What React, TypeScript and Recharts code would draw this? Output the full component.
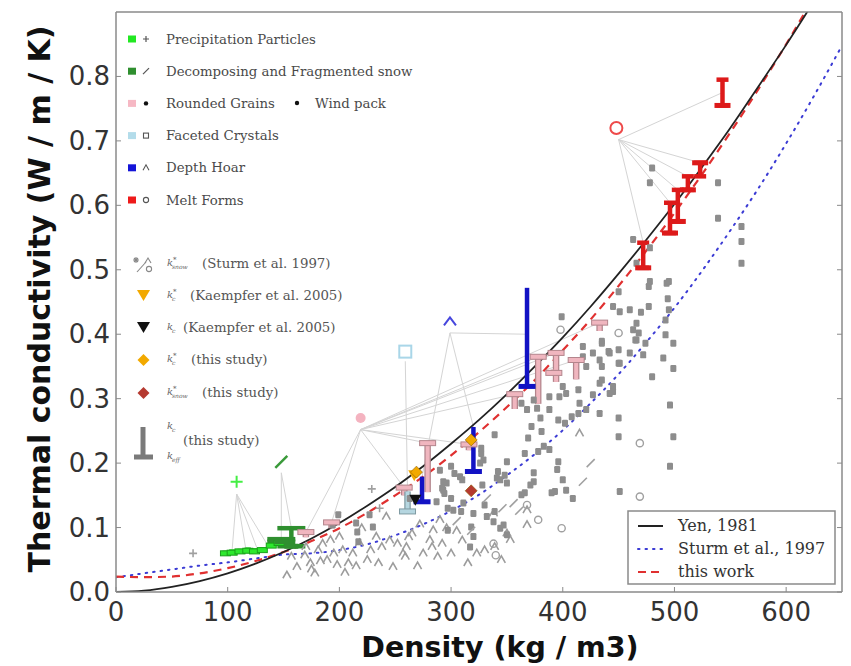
import { ComposedChart, ErrorBar, Line, ReferenceLine, Scatter, XAxis, YAxis } from "recharts";

// model curves, sampled every 25 kg/m3
const curveDensity = [
  0, 25, 50, 75, 100, 125, 150, 175, 200, 225, 250, 275, 300, 325, 350, 375, 400, 425, 450, 475, 500,
  525, 550, 575, 600, 625, 650,
];
const yenK = [
  0, 0.002, 0.008, 0.017, 0.029, 0.044, 0.062, 0.083, 0.107, 0.134, 0.163, 0.195, 0.23, 0.267, 0.307,
  0.35, 0.395, 0.443, 0.494, 0.547, 0.602, 0.66, 0.72, 0.784, 0.849, 0.917, 0.987,
];
const sturmK = [
  0.023, 0.029, 0.035, 0.041, 0.046, 0.052, 0.058, 0.06, 0.065, 0.074, 0.088, 0.105, 0.126, 0.151,
  0.181, 0.214, 0.251, 0.293, 0.338, 0.388, 0.441, 0.499, 0.561, 0.626, 0.696, 0.77, 0.848,
];
const thisWorkK = [
  0.024, 0.023, 0.024, 0.029, 0.037, 0.048, 0.062, 0.079, 0.099, 0.123, 0.15, 0.179, 0.212, 0.248,
  0.287, 0.329, 0.375, 0.423, 0.475, 0.53, 0.588, 0.649, 0.713, 0.78, 0.85, 0.924, 1.0,
];

const xTicks = [0, 100, 200, 300, 400, 500, 600];
const yTicks = [0, 0.1, 0.2, 0.3, 0.4, 0.5, 0.6, 0.7, 0.8];

// Sturm et al. 1997 samples [density, k]
const sturmSquares = [
  [199, 0.12], [194, 0.104], [215, 0.107], [216, 0.093], [217, 0.078], [227, 0.12], [230, 0.101],
  [263, 0.145], [290, 0.189], [293, 0.171], [293, 0.158], [300, 0.195], [300, 0.145], [297, 0.13],
  [296, 0.169], [294, 0.153], [302, 0.127], [297, 0.096], [308, 0.179], [309, 0.125], [311, 0.138],
  [320, 0.122], [320, 0.086], [317, 0.07], [318, 0.101], [327, 0.215], [329, 0.205], [330, 0.135],
  [332, 0.117], [338, 0.109], [339, 0.125], [342, 0.187], [344, 0.174], [348, 0.181], [350, 0.169],
  [347, 0.104], [344, 0.099], [350, 0.089], [363, 0.151], [366, 0.215], [371, 0.166], [374, 0.171],
  [378, 0.218], [388, 0.221], [396, 0.202], [393, 0.156], [403, 0.158], [400, 0.174], [409, 0.145],
  [451, 0.156], [303, 0.184], [310, 0.174], [292, 0.161], [326, 0.2], [339, 0.244], [350, 0.202],
  [341, 0.177], [328, 0.166], [366, 0.154], [374, 0.185], [390, 0.154], [395, 0.19], [287, 0.14],
  [399, 0.427], [418, 0.381], [435, 0.386], [445, 0.443], [451, 0.435], [463, 0.407], [460, 0.438],
  [466, 0.391], [418, 0.365], [427, 0.371], [433, 0.36], [442, 0.371], [451, 0.355], [421, 0.35],
  [433, 0.324], [445, 0.319], [442, 0.308], [400, 0.319], [403, 0.308], [397, 0.303], [388, 0.303],
  [414, 0.314], [415, 0.293], [414, 0.277], [433, 0.277], [421, 0.283], [408, 0.272], [402, 0.262],
  [396, 0.267], [388, 0.283], [377, 0.285], [380, 0.27], [381, 0.249], [372, 0.257], [369, 0.239],
  [368, 0.283], [374, 0.298], [363, 0.293], [327, 0.223], [383, 0.226], [450, 0.27], [450, 0.241],
  [427, 0.306], [470, 0.434], [477, 0.443], [466, 0.417], [468, 0.402], [465, 0.391], [435, 0.389],
  [441, 0.373], [450, 0.376], [460, 0.371], [450, 0.355], [435, 0.35], [474, 0.386], [472, 0.368],
  [492, 0.399], [499, 0.386], [490, 0.363], [499, 0.347], [480, 0.334], [495, 0.438], [492, 0.422],
  [435, 0.329], [445, 0.311], [496, 0.29], [499, 0.241], [496, 0.195], [477, 0.474], [493, 0.479],
  [494, 0.455], [480, 0.658], [478, 0.635], [539, 0.635], [539, 0.58], [560, 0.567], [560, 0.544],
  [560, 0.51], [463, 0.547], [478, 0.534], [466, 0.51], [478, 0.482], [495, 0.482], [450, 0.466],
];
const sturmCarets = [
  [153, 0.026], [157, 0.055], [162, 0.039], [169, 0.057], [174, 0.045], [178, 0.029], [181, 0.065],
  [189, 0.05], [192, 0.081], [198, 0.042], [200, 0.086], [203, 0.065], [208, 0.045], [218, 0.076],
  [220, 0.099], [233, 0.086], [242, 0.117], [248, 0.039], [257, 0.06], [260, 0.07], [265, 0.091],
  [281, 0.081], [284, 0.096], [288, 0.055], [290, 0.112], [296, 0.099], [259, 0.055], [283, 0.07],
  [338, 0.122], [350, 0.091], [368, 0.127], [368, 0.104], [353, 0.081], [339, 0.07], [415, 0.246],
  [170, 0.07], [185, 0.075], [212, 0.06], [225, 0.05], [238, 0.07], [272, 0.105], [300, 0.06],
  [310, 0.08], [323, 0.06], [270, 0.04], [245, 0.08], [175, 0.035], [183, 0.048], [195, 0.06],
  [205, 0.03], [215, 0.04], [228, 0.065], [235, 0.045], [252, 0.075], [262, 0.085], [275, 0.06],
  [292, 0.075], [305, 0.095], [315, 0.045], [330, 0.065], [345, 0.05],
];
const sturmRings = [
  [398, 0.407], [450, 0.402], [469, 0.231], [469, 0.148], [340, 0.057], [378, 0.112], [399, 0.099],
  [338, 0.075], [368, 0.135],
];
const sturmSlashes = [
  [418, 0.171], [332, 0.145], [346, 0.13], [356, 0.138], [361, 0.126], [305, 0.11], [318, 0.095],
  [425, 0.2],
];
const sturmPlus = [[69, 0.06], [229, 0.16], [236, 0.13]];

// this study: [density, k_eff, k_c]
const precipBars = [
  [98, 0.06, 0.064], [104, 0.061, 0.066], [111, 0.063, 0.067], [118, 0.064, 0.069],
  [124, 0.063, 0.068], [131, 0.065, 0.069], [139, 0.072, 0.076], [146, 0.076, 0.08],
];
const decompBars = [[148, 0.078, 0.082], [157, 0.071, 0.099]];
const roundedBars = [
  [170, 0.093, 0.085], [193, 0.108, 0.099], [258, 0.162, 0.15], [279, 0.231, 0.155],
  [316, 0.229, 0.22], [357, 0.307, 0.284], [378, 0.365, 0.292], [394, 0.371, 0.326],
  [392, 0.34, 0.345], [412, 0.36, 0.33], [433, 0.418, 0.405],
];
const facetedBars = [[261, 0.125, 0.156]];
const hoarBars = [[274, 0.14, 0.179], [320, 0.187, 0.256], [368, 0.319, 0.472]];
const meltBars = [
  [472, 0.503, 0.542], [496, 0.557, 0.604], [503, 0.575, 0.624], [512, 0.624, 0.645],
  [523, 0.666, 0.645], [543, 0.755, 0.795],
];
const kcStarStudy = [[269, 0.186], [318, 0.236]];
const kcStarKaempfer = [[267, 0.181]];
const kcKaempfer = [[268, 0.143]];
const kSnowStudy = [[318, 0.157]];

// class pictograms and the samples they point to
const precipIcon = [108, 0.171];
const precipHub = [108, 0.152];
const precipTargets = [[104, 0.066], [116, 0.069], [126, 0.069], [136, 0.072]];
const decompIcon = [148, 0.202];
const decompHub = [148, 0.185];
const decompTargets = [[148, 0.082], [157, 0.099]];
const roundedIcon = [219, 0.27];
const roundedHub = [219, 0.252];
const roundedTargets = [
  [170, 0.093], [193, 0.108], [258, 0.162], [279, 0.231], [316, 0.229], [357, 0.307], [378, 0.365],
  [394, 0.371], [412, 0.36], [433, 0.418],
];
const facetedIcon = [259, 0.373];
const facetedHub = [259, 0.358];
const facetedTargets = [[261, 0.156]];
const hoarIcon = [299, 0.42];
const hoarHub = [299, 0.402];
const hoarTargets = [[274, 0.179], [320, 0.256], [368, 0.4]];
const meltIcon = [448, 0.72];
const meltHub = [450, 0.702];
const meltTargets = [
  [472, 0.542], [496, 0.604], [503, 0.624], [512, 0.645], [523, 0.666], [543, 0.775],
];

const toPoints = (list: number[][]) => list.map(([rho, k]) => ({ rho, k }));
const toCurve = (ks: number[]) => curveDensity.map((rho, i) => ({ rho, k: ks[i] }));
const toBars = (list: number[][]) =>
  list.map(([rho, keff, kc]) => ({
    rho,
    k: keff,
    err: [Math.max(0, keff - kc), Math.max(0, kc - keff)],
  }));

const links = [
  [precipHub, precipTargets],
  [decompHub, decompTargets],
  [roundedHub, roundedTargets],
  [facetedHub, facetedTargets],
  [hoarHub, hoarTargets],
  [meltHub, meltTargets],
].flatMap(([hub, targets]: any) => targets.map((t: number[]) => [hub[0], hub[1], t[0], t[1]]));

const SERIF = "DejaVu Serif";
const SANS = "DejaVu Sans";
const FRAME = "#8a8a8a";

const square = ({ cx, cy }: any) => (
  <rect x={cx - 3} y={cy - 3.5} width={6} height={7} rx={1.2} fill="#8d8d8d" />
);
const caret = ({ cx, cy }: any) => (
  <path d={`M${cx - 4},${cy + 3} L${cx},${cy - 4} L${cx + 4},${cy + 3}`} fill="none" stroke="#9c9c9c" strokeWidth={1.6} />
);
const ring = ({ cx, cy }: any) => (
  <circle cx={cx} cy={cy} r={3.6} fill="none" stroke="#a0a0a0" strokeWidth={1.4} />
);
const slash = ({ cx, cy }: any) => (
  <line x1={cx - 4} y1={cy + 4} x2={cx + 4} y2={cy - 4} stroke="#a0a0a0" strokeWidth={1.6} />
);
const plus = ({ cx, cy }: any) => (
  <path d={`M${cx - 4},${cy} H${cx + 4} M${cx},${cy - 4} V${cy + 4}`} stroke="#a0a0a0" strokeWidth={1.6} />
);
const foot = (fill: string, edge: string, w = 16) => ({ cx, cy }: any) => (
  <rect x={cx - w / 2} y={cy - 2.5} width={w} height={5} fill={fill} stroke={edge} strokeWidth={edge === fill ? 0 : 1} />
);
const diamond = (fill: string) => ({ cx, cy }: any) => (
  <path d={`M${cx},${cy - 6} L${cx + 6},${cy} L${cx},${cy + 6} L${cx - 6},${cy} Z`} fill={fill} stroke="#8a5a00" strokeWidth={0.6} />
);
const triangleDown = (fill: string) => ({ cx, cy }: any) => (
  <path d={`M${cx - 6},${cy - 5} L${cx + 6},${cy - 5} L${cx},${cy + 6} Z`} fill={fill} />
);

const XTick = ({ x, y, payload }: any) => (
  <g>
    <line x1={x} x2={x} y1={y} y2={y - 5} stroke={FRAME} />
    <text x={x} y={y + 29} textAnchor="middle" fontSize={26} fill="#333" fontFamily={SANS}>
      {payload.value}
    </text>
  </g>
);
const TopTick = ({ x, y }: any) => <line x1={x} x2={x} y1={y} y2={y + 5} stroke={FRAME} />;
const YTick = ({ x, y, payload }: any) => (
  <g>
    <line x1={x} x2={x + 5} y1={y} y2={y} stroke={FRAME} />
    <text x={x - 6} y={y + 9} textAnchor="end" fontSize={26} fill="#333" fontFamily={SANS}>
      {payload.value.toFixed(1)}
    </text>
  </g>
);
const RightTick = ({ x, y }: any) => <line x1={x} x2={x - 5} y1={y} y2={y} stroke={FRAME} />;

const snowClasses = [
  { label: "Precipitation Particles", color: "#22e822", mark: "plus" },
  { label: "Decomposing and Fragmented snow", color: "#2f8f2f", mark: "slash" },
  { label: "Rounded Grains", color: "#f6b8c4", mark: "dot" },
  { label: "Faceted Crystals", color: "#b3dcea", mark: "square" },
  { label: "Depth Hoar", color: "#1414d8", mark: "caret" },
  { label: "Melt Forms", color: "#ee1a1a", mark: "ring" },
];

function ClassMark({ kind, x, y }: { kind: string; x: number; y: number }) {
  const c = "#555";
  if (kind === "plus") return <path d={`M${x - 3},${y} H${x + 3} M${x},${y - 3} V${y + 3}`} stroke={c} strokeWidth={1.2} />;
  if (kind === "slash") return <line x1={x - 3} y1={y + 3} x2={x + 3} y2={y - 3} stroke={c} strokeWidth={1.2} />;
  if (kind === "dot") return <circle cx={x} cy={y} r={2.2} fill="#111" />;
  if (kind === "square") return <rect x={x - 2.5} y={y - 2.5} width={5} height={5} fill="none" stroke={c} strokeWidth={1.1} />;
  if (kind === "caret") return <path d={`M${x - 3},${y + 2.5} L${x},${y - 3} L${x + 3},${y + 2.5}`} fill="none" stroke={c} strokeWidth={1.1} />;
  return <circle cx={x} cy={y} r={2.6} fill="none" stroke={c} strokeWidth={1.1} />;
}

function KSym({ x, y, sup, sub }: { x: number; y: number; sup?: string; sub?: string }) {
  return (
    <text x={x} y={y} fontFamily={SERIF} fontStyle="italic" fontSize={10} fill="#666">
      k
      {sup && <tspan x={x + 6} dy={-4} fontSize={7}>{sup}</tspan>}
      {sub && <tspan x={x + 5} dy={sup ? 7 : 3} fontSize={6}>{sub}</tspan>}
    </text>
  );
}

function Legends() {
  const rowsA = snowClasses.map((c, i) => ({ ...c, y: 39 + i * 32.2 }));
  const textB = { fontFamily: SERIF, fontSize: 13.3, fill: "#555" };
  return (
    <svg width={851} height={666} style={{ position: "absolute", left: 0, top: 0, pointerEvents: "none" }}>
      {rowsA.map((r) => (
        <g key={r.label}>
          <rect x={128} y={r.y - 3.5} width={8} height={7} fill={r.color} />
          <ClassMark kind={r.mark} x={146} y={r.y} />
          <text x={166} y={r.y + 4.5} fontFamily={SERIF} fontSize={13.3} fill="#4a4a4a">{r.label}</text>
        </g>
      ))}
      <circle cx={297} cy={103} r={2.2} fill="#111" />
      <text x={315} y={107.5} fontFamily={SERIF} fontSize={13.3} fill="#4a4a4a">Wind pack</text>

      {/* sample symbols of the second legend */}
      <g stroke="#888" strokeWidth={1.1} fill="none">
        <path d="M134,258 l4,4 M138,258 l-4,4 M136,257 v6 M133,260 h6" />
        <line x1={137} y1={272} x2={146} y2={262} />
        <path d="M145,263 l3,-5 l3,5" />
        <circle cx={149} cy={269} r={2.6} />
      </g>
      <KSym x={167} y={266} sup="*" sub="snow" />
      <text x={202} y={268} {...textB}>(Sturm et al. 1997)</text>

      <path d="M137,290 L150,290 L143.5,301 Z" fill="#f2a900" />
      <KSym x={167} y={298} sup="*" sub="c" />
      <text x={190} y={300} {...textB}>(Kaempfer et al. 2005)</text>

      <path d="M137,322 L150,322 L143.5,333 Z" fill="#111" />
      <KSym x={167} y={330} sub="c" />
      <text x={183} y={332} {...textB}>(Kaempfer et al. 2005)</text>

      <path d="M143.5,354 L149.5,360 L143.5,366 L137.5,360 Z" fill="#f2a900" />
      <KSym x={167} y={362} sup="*" sub="c" />
      <text x={191} y={364} {...textB}>(this study)</text>

      <path d="M143.5,387 L149.5,393 L143.5,399 L137.5,393 Z" fill="#b53a30" />
      <KSym x={167} y={395} sup="*" sub="snow" />
      <text x={202} y={397} {...textB}>(this study)</text>

      <line x1={143} y1={427} x2={143} y2={458} stroke="#7a7a7a" strokeWidth={5} />
      <line x1={134} y1={457} x2={153} y2={457} stroke="#7a7a7a" strokeWidth={5} />
      <KSym x={167} y={429} sub="c" />
      <text x={183} y={445} {...textB}>(this study)</text>
      <KSym x={167} y={459} sub="eff" />

      {/* curve legend */}
      <rect x={628} y={511} width={207} height={73} fill="#fff" stroke={FRAME} strokeWidth={1.5} />
      <line x1={638} y1={526} x2={663} y2={526} stroke="#222" strokeWidth={2} />
      <text x={678} y={531} fontFamily={SERIF} fontSize={16} fill="#333">Yen, 1981</text>
      <line x1={638} y1={549} x2={663} y2={549} stroke="#3b3bd4" strokeWidth={2} strokeDasharray="1.5 6" strokeLinecap="round" />
      <text x={678} y={554} fontFamily={SERIF} fontSize={16} fill="#333">Sturm et al., 1997</text>
      <line x1={638} y1={572} x2={663} y2={572} stroke="#e03030" strokeWidth={2.2} strokeDasharray="8 5" />
      <text x={678} y={577} fontFamily={SERIF} fontSize={16} fill="#333">this work</text>

      <text
        transform="translate(50,299) rotate(-90)"
        textAnchor="middle"
        fontFamily={SANS}
        fontWeight="bold"
        fontSize={30}
        fill="#111"
      >
        Thermal conductivity (W / m / K)
      </text>
      <text x={500} y={657} textAnchor="middle" fontFamily={SANS} fontWeight="bold" fontSize={28.5} fill="#111">
        Density (kg / m3)
      </text>
    </svg>
  );
}

export default function App() {
  const barSeries = [
    { data: precipBars, fill: "#2ee82e", edge: "#1aa01a", bar: "#2ee82e", w: 10, cap: 0 },
    { data: decompBars, fill: "#2f8f2f", edge: "#2f8f2f", bar: "#2f8f2f", w: 14, cap: 14 },
    { data: roundedBars, fill: "#f0b6bf", edge: "#b3858c", bar: "#f0b6bf", w: 16, cap: 0 },
    { data: facetedBars, fill: "#b5d6e0", edge: "#7f9aa2", bar: "#b5d6e0", w: 16, cap: 0 },
    { data: hoarBars, fill: "#1212c4", edge: "#1212c4", bar: "#1212c4", w: 17, cap: 0 },
    { data: meltBars, fill: "#dd1a1a", edge: "#dd1a1a", bar: "#dd1a1a", w: 16, cap: 6 },
  ];
  const icons = [
    { at: precipIcon, shape: ({ cx, cy }: any) => <path d={`M${cx - 6},${cy} H${cx + 6} M${cx},${cy - 6} V${cy + 6}`} stroke="#44ee44" strokeWidth={2} /> },
    { at: decompIcon, shape: ({ cx, cy }: any) => <line x1={cx - 6} y1={cy + 6} x2={cx + 6} y2={cy - 6} stroke="#3a9a3a" strokeWidth={2.5} /> },
    { at: roundedIcon, shape: ({ cx, cy }: any) => <circle cx={cx} cy={cy} r={5} fill="#f4b3c0" /> },
    { at: facetedIcon, shape: ({ cx, cy }: any) => <rect x={cx - 6} y={cy - 6} width={12} height={12} fill="none" stroke="#a9d6e8" strokeWidth={2} /> },
    { at: hoarIcon, shape: ({ cx, cy }: any) => <path d={`M${cx - 6},${cy + 4} L${cx},${cy - 4} L${cx + 6},${cy + 4}`} fill="none" stroke="#4646dd" strokeWidth={2} /> },
    { at: meltIcon, shape: ({ cx, cy }: any) => <circle cx={cx} cy={cy} r={6} fill="none" stroke="#ee4a4a" strokeWidth={2} /> },
  ];

  return (
    <div style={{ position: "absolute", left: 0, top: 0, width: 851, height: 666, background: "#fff" }}>
      <ComposedChart width={851} height={666} margin={{ top: 0, right: 0, bottom: 0, left: 0 }}>
        <XAxis
          dataKey="rho"
          type="number"
          domain={[0, 650]}
          ticks={xTicks}
          interval={0}
          allowDataOverflow
          height={74}
          tickSize={0}
          tickMargin={0}
          tickLine={false}
          tick={XTick}
          axisLine={{ stroke: FRAME, strokeWidth: 1.5 }}
        />
        <XAxis
          xAxisId="top"
          orientation="top"
          type="number"
          domain={[0, 650]}
          ticks={xTicks}
          interval={0}
          allowDataOverflow
          height={12}
          tickSize={0}
          tickMargin={0}
          tickLine={false}
          tick={TopTick}
          axisLine={{ stroke: FRAME, strokeWidth: 1.5 }}
        />
        <YAxis
          dataKey="k"
          type="number"
          domain={[0, 0.9]}
          ticks={yTicks}
          interval={0}
          allowDataOverflow
          width={116}
          tickSize={0}
          tickMargin={0}
          tickLine={false}
          tick={YTick}
          axisLine={{ stroke: FRAME, strokeWidth: 1.5 }}
        />
        <YAxis
          yAxisId="right"
          orientation="right"
          type="number"
          domain={[0, 0.9]}
          ticks={yTicks}
          interval={0}
          allowDataOverflow
          width={9}
          tickSize={0}
          tickMargin={0}
          tickLine={false}
          tick={RightTick}
          axisLine={{ stroke: FRAME, strokeWidth: 1.5 }}
        />

        {links.map((l, i) => (
          <ReferenceLine
            key={`link-${i}`}
            segment={[{ x: l[0], y: l[1] }, { x: l[2], y: l[3] }]}
            stroke="#d4d4d4"
            strokeWidth={1}
            ifOverflow="visible"
          />
        ))}

        <Scatter data={toPoints(sturmCarets)} shape={caret} isAnimationActive={false} />
        <Scatter data={toPoints(sturmSquares)} shape={square} isAnimationActive={false} />
        <Scatter data={toPoints(sturmRings)} shape={ring} isAnimationActive={false} />
        <Scatter data={toPoints(sturmSlashes)} shape={slash} isAnimationActive={false} />
        <Scatter data={toPoints(sturmPlus)} shape={plus} isAnimationActive={false} />

        <Line data={toCurve(sturmK)} dataKey="k" type="monotone" stroke="#3b3bd4" strokeWidth={2} strokeDasharray="1.5 6" strokeLinecap="round" dot={false} activeDot={false} isAnimationActive={false} />
        <Line data={toCurve(thisWorkK)} dataKey="k" type="monotone" stroke="#e03030" strokeWidth={2.2} strokeDasharray="8 6" dot={false} activeDot={false} isAnimationActive={false} />
        <Line data={toCurve(yenK)} dataKey="k" type="monotone" stroke="#222" strokeWidth={1.8} dot={false} activeDot={false} isAnimationActive={false} />

        {barSeries.map((s, i) => (
          <Scatter key={`bars-${i}`} data={toBars(s.data)} shape={foot(s.fill, s.edge, s.w)} isAnimationActive={false}>
            {s.edge !== s.bar && <ErrorBar dataKey="err" direction="y" width={0} stroke={s.edge} strokeWidth={6.5} />}
            <ErrorBar dataKey="err" direction="y" width={s.cap} stroke={s.bar} strokeWidth={s.edge !== s.bar ? 4 : 4.5} />
          </Scatter>
        ))}

        <Scatter data={toPoints(kcStarKaempfer)} shape={triangleDown("#f2a900")} isAnimationActive={false} />
        <Scatter data={toPoints(kcKaempfer)} shape={triangleDown("#111")} isAnimationActive={false} />
        <Scatter data={toPoints(kcStarStudy)} shape={diamond("#f2a900")} isAnimationActive={false} />
        <Scatter data={toPoints(kSnowStudy)} shape={diamond("#b53a30")} isAnimationActive={false} />

        {icons.map((ic, i) => (
          <Scatter key={`icon-${i}`} data={toPoints([ic.at])} shape={ic.shape} isAnimationActive={false} />
        ))}
      </ComposedChart>
      <Legends />
    </div>
  );
}
